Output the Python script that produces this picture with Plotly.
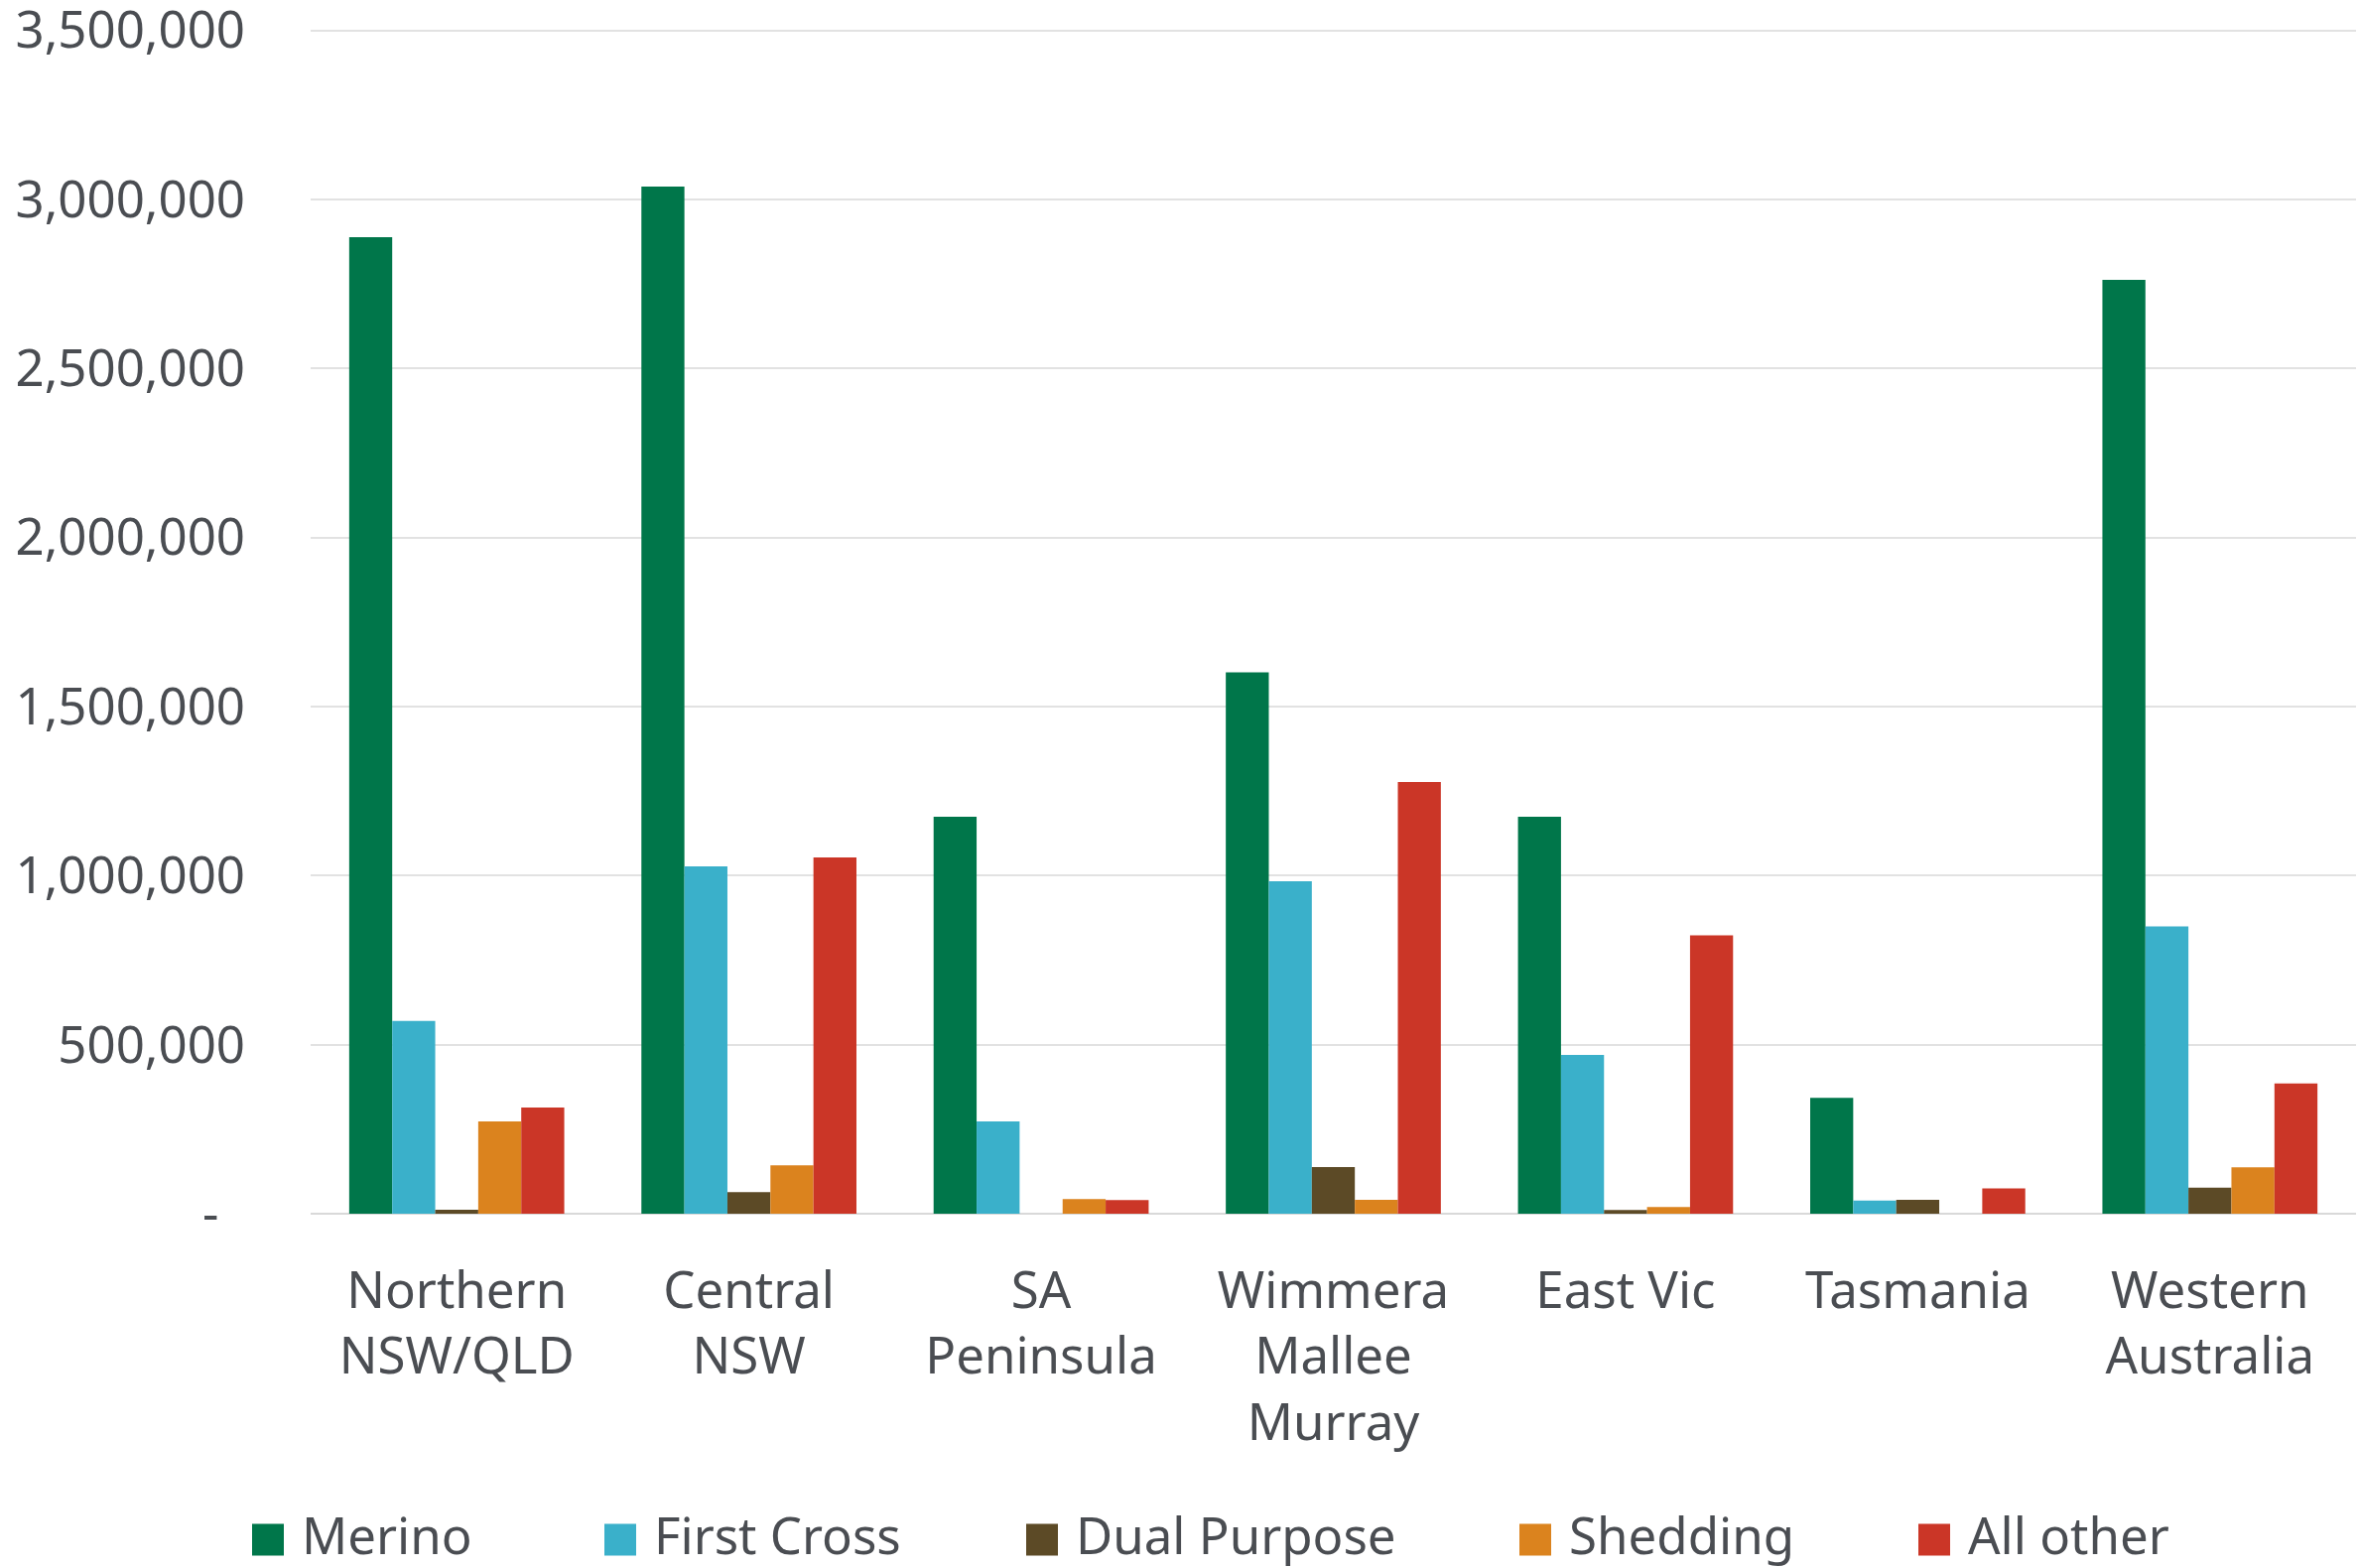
import plotly.graph_objects as go

categories = ["Northern<br>NSW/QLD", "Central<br>NSW", "SA<br>Peninsula", "Wimmera<br>Mallee<br>Murray",
              "East Vic", "Tasmania", "Western<br>Australia"]
merino = [2888000, 3038000, 1174000, 1601000, 1174000, 343000, 2762000]
first_cross = [570000, 1027000, 273000, 983000, 470000, 39000, 850000]
dual_purpose = [12000, 64000, 0, 138000, 11000, 41000, 77000]
shedding = [273000, 143000, 43000, 41000, 20000, 0, 137000]
all_other = [314000, 1054000, 40000, 1277000, 823000, 75000, 385000]

series_names = ["Merino", "First Cross", "Dual Purpose", "Shedding", "All other"]
series_values = [merino, first_cross, dual_purpose, shedding, all_other]
colors = ["#00764A", "#3AB0CA", "#5C4A26", "#DB831E", "#CB3627"]

y_tickvals = [0, 500000, 1000000, 1500000, 2000000, 2500000, 3000000, 3500000]
y_ticktext = ["-\u00a0\u00a0", "500,000", "1,000,000", "1,500,000", "2,000,000",
              "2,500,000", "3,000,000", "3,500,000"]

W, H = 2377, 1580
FONT = "Noto Sans"
TXT = "#4A4D52"
FS = 51

Y_TOP = 3500000
Y_MAX = 3540000
ZERO_PX = 1223.5
TOP_GRID_PX = 30.7
plot_h = (ZERO_PX - TOP_GRID_PX) * Y_MAX / Y_TOP
top_px = ZERO_PX - plot_h
L, R = 313, 3
plot_w = W - L - R

fig = go.Figure()
for name, vals, col in zip(series_names, series_values, colors):
    fig.add_trace(go.Bar(x=categories, y=vals, name=name, marker=dict(color=col, line=dict(width=0)),
                         showlegend=False))

# manual legend (large swatches as in the reference)
legend_x = [254, 609, 1034, 1531, 1933]
legend_y = 1552
text_y = 1547


def py(px):
    return (ZERO_PX - px) / plot_h


def pxx(px):
    return (px - L) / plot_w


for name, col, lx in zip(series_names, colors, legend_x):
    fig.add_shape(type="rect", xref="paper", yref="paper",
                  x0=pxx(lx), x1=pxx(lx + 32),
                  y0=py(legend_y + 16), y1=py(legend_y - 16),
                  fillcolor=col, line=dict(width=0))
    fig.add_annotation(text=name, xref="paper", yref="paper",
                       x=pxx(lx + 48), y=py(text_y),
                       xanchor="left", yanchor="middle", showarrow=False,
                       font=dict(family=FONT, size=FS, color=TXT))

fig.update_layout(
    width=W, height=H,
    margin=dict(l=L, r=R, t=top_px, b=H - ZERO_PX, autoexpand=False),
    paper_bgcolor="white", plot_bgcolor="white",
    barmode="group", bargap=0.264, bargroupgap=0,
    font=dict(family=FONT, size=FS, color=TXT),
    showlegend=False,
)
fig.update_yaxes(range=[0, Y_MAX], tickvals=y_tickvals, ticktext=y_ticktext,
                 showgrid=True, gridcolor="#E2E2E2", gridwidth=2,
                 zeroline=True, zerolinecolor="#D9D9D9", zerolinewidth=2,
                 showline=False, ticks="", ticklabelstandoff=65,
                 ticklabeloverflow="allow",
                 tickfont=dict(family=FONT, size=FS, color=TXT))
fig.update_xaxes(showgrid=False, showline=False, ticks="", ticklabelstandoff=43,
                 tickfont=dict(family=FONT, size=FS, color=TXT), tickangle=0)

fig.write_html("out.html")
